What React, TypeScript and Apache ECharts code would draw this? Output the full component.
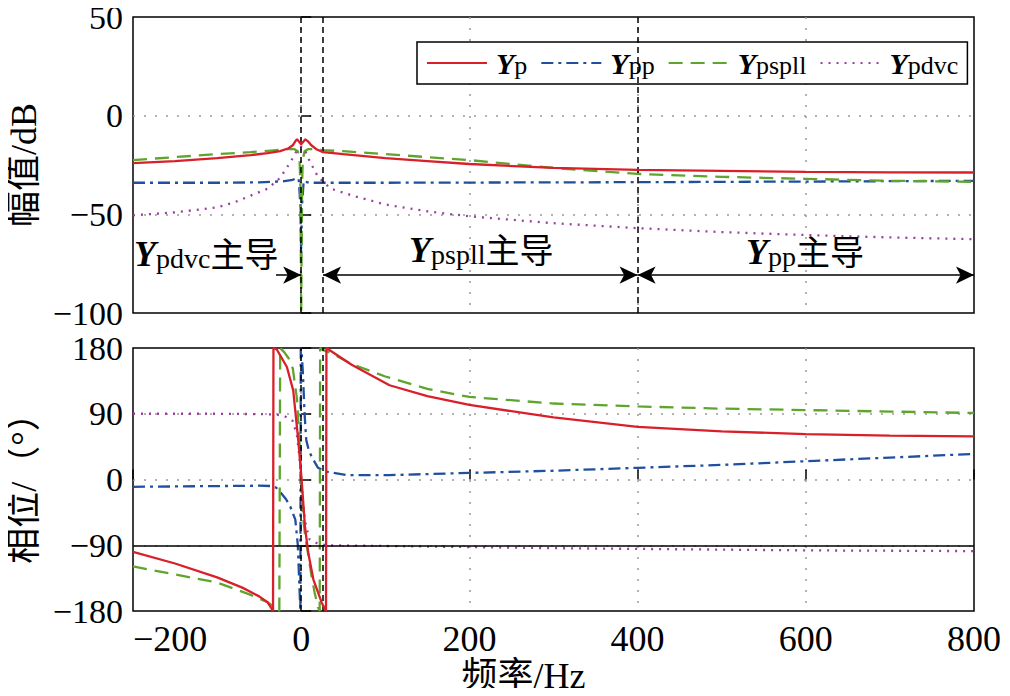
import React, { useEffect, useRef } from "react";
import * as echarts from "echarts";

// ---- data: magnitude (dB) ----
const magFreqP = [-200, -150, -100, -60, -40, -25, -15, -10, -7, -5, -3, 0, 3, 5, 8, 12, 18, 26, 50, 100, 150, 200, 300, 400, 500, 600, 700, 800];
const magP = [-24, -23, -21.5, -20, -19, -18, -16.5, -15, -13, -12, -13, -14.5, -13, -12, -13, -15, -17, -18.5, -19.5, -21.5, -23, -24.5, -26.5, -27.5, -28, -28.5, -28.7, -28.8];

const magFreqPP = [-200, -100, -50, -20, -10, -5, -3, -1, 0, 1, 3, 5, 10, 20, 50, 100, 200, 400, 600, 800];
const magPP = [-34, -34, -33.8, -33.2, -32.5, -31.5, -32, -45, -70, -45, -33, -33.5, -34, -34, -34, -34, -33.9, -33.7, -33.4, -33];

const magFreqPspll = [-200, -150, -100, -60, -30, -15, -8, -4, -2, -1, 0, 1, 2, 4, 8, 15, 26, 50, 100, 200, 300, 400, 500, 600, 700, 800];
const magPspll = [-22.5, -21, -19.5, -18.5, -17.5, -17, -17, -18, -22, -35, -100, -35, -22, -18, -17, -17, -17.5, -18, -19.5, -22.5, -26.5, -29.5, -31, -32, -33, -33.5];

const magFreqPdvc = [-200, -150, -100, -80, -60, -40, -25, -15, -10, -5, 0, 5, 10, 20, 35, 65, 100, 150, 200, 300, 400, 500, 600, 700, 800];
const magPdvc = [-50.5, -49, -46.5, -44, -40.5, -37, -31.5, -25, -21.5, -17.5, -15.5, -18, -23, -31, -37, -41, -45, -48.5, -51, -54.5, -57, -59, -60.5, -61.7, -62.6];

// ---- data: phase (deg) ----
const phFreqP = [-200, -150, -100, -70, -50, -40, -33.5, -33, -29, -17, -9.5, -3.5, 0.5, 4.5, 8.5, 14.5, 24.5, 29.5, 30, 34, 60, 105, 150, 200, 300, 400, 500, 600, 700, 800];
const phP = [-99, -115, -134, -148, -160, -168, -180, 180, 178, 154, 122, 54, 0, -65, -101, -137, -169, -180, 180, 177, 157, 129, 114, 102, 85, 72, 66, 62, 60, 59];

const phFreqPP = [-200, -100, -50, -35, -30, -25, -18, -13, -7, -4, -2, -1, -0.5, 0.5, 2, 4, 6, 9, 12.5, 20, 30, 54, 105, 200, 300, 400, 500, 600, 700, 800];
const phPP = [-10, -9, -8.5, -9, -11, -17, -27, -37, -55, -90, -150, -180, 180, 175, 146, 90, 54, 40, 31, 16, 10.7, 6, 6, 9, 12, 16, 20, 25, 30, 35];

const phFreqPspll = [-200, -150, -100, -60, -40, -26, -25, -20, -15, -10, -5, -2, 0, 2, 5, 8, 12, 16, 20, 22, 22.5, 26, 34, 60, 100, 150, 200, 300, 400, 500, 600, 700, 800];
const phPspll = [-119, -130, -141, -158, -168, -180, 180, 174, 166, 152, 110, 50, 0, -50, -80, -100, -130, -155, -175, -180, 180, 177, 174, 158, 141, 124, 113, 104, 100, 97, 95, 93, 91];

const phFreqPdvc = [-200, -100, -50, -30, -20, -10, -5, -2, 0, 2, 5, 10, 20, 30, 100, 200, 300, 400, 500, 600, 700, 800];
const phPdvc = [90, 90, 89.5, 89, 87, 80, 60, 30, 0, -30, -60, -82, -88, -90, -91, -92.5, -94, -95, -96, -97, -97.5, -98];

// ---- axis ticks / markers ----
const xTicks = { min: -200, max: 800, interval: 200 };
const magTicks = { min: -100, max: 50, interval: 50 };
const phTicks = { min: -180, max: 180, interval: 90 };
const boundaryFreqs = [0, 26];
const regionFreq = 400;
const arrowLevel = -80.8;
const arrowStartFreq = -30;
const phaseRefLine = -90;

const names = ["Yp", "Ypp", "Ypspll", "Ypdvc"];
const colors = ["#d9202a", "#1f4f9e", "#5fa52d", "#9a3f9f"];
const dashes: any[] = ["solid", [12, 5, 3, 5], [14, 8], [2, 6]];

const zip = (a: number[], b: number[]) => a.map((v, i) => [v, b[i]]);

const SERIF = '"Liberation Serif", "Times New Roman", serif';
const MIX = '"Liberation Serif", "Noto Sans CJK SC", serif';

const minus = (v: number) => (v < 0 ? "\u2212" + Math.abs(v) : String(v));

const richLegend = {
  Y: { fontFamily: SERIF, fontWeight: "bold", fontStyle: "italic", fontSize: 30, lineHeight: 30, verticalAlign: "bottom", color: "#000" },
  s: { fontFamily: SERIF, fontSize: 26, lineHeight: 21, verticalAlign: "bottom", color: "#000" },
};
const richNote = {
  Y: { fontFamily: SERIF, fontWeight: "bold", fontStyle: "italic", fontSize: 36, lineHeight: 36, verticalAlign: "bottom", color: "#000" },
  s: { fontFamily: SERIF, fontSize: 28, lineHeight: 24, verticalAlign: "bottom", color: "#000" },
  c: { fontFamily: MIX, fontSize: 34, lineHeight: 36, verticalAlign: "bottom", color: "#000" },
};

export default function App() {
  const ref = useRef<HTMLDivElement>(null);
  useEffect(() => {
    const chart = echarts.init(ref.current!, undefined, { renderer: "svg" });
    const gridLine = { show: true, showMinLine: false, showMaxLine: false, lineStyle: { color: "#999", type: [2, 9], width: 1.5 } };
    const dashedBlack = { color: "#000", type: [6, 4], width: 1.5 };
    const magSeries = [zip(magFreqP, magP), zip(magFreqPP, magPP), zip(magFreqPspll, magPspll), zip(magFreqPdvc, magPdvc)];
    const phSeries = [zip(phFreqP, phP), zip(phFreqPP, phPP), zip(phFreqPspll, phPspll), zip(phFreqPdvc, phPdvc)];
    const arrowSym = "arrow";
    const arrowSize: any = [13, 18];
    const series: any[] = [];
    names.forEach((n, i) => {
      series.push({
        name: n, type: "line", xAxisIndex: 0, yAxisIndex: 0, data: magSeries[i], showSymbol: false,
        lineStyle: { color: colors[i], type: dashes[i], width: 2.3 }, itemStyle: { color: colors[i] }, z: i === 0 ? 5 : 3,
        markLine: i === 0 ? {
          silent: true, symbol: "none", label: { show: false }, lineStyle: dashedBlack,
          data: [...boundaryFreqs, regionFreq].map((f) => ({ xAxis: f })),
        } : i === 1 ? {
          silent: true, label: { show: false }, lineStyle: { color: "#000", type: "solid", width: 1.5 }, symbolSize: arrowSize,
          data: [
            [{ coord: [arrowStartFreq, arrowLevel], symbol: "none" }, { coord: [boundaryFreqs[0], arrowLevel], symbol: arrowSym }],
            [{ coord: [boundaryFreqs[1], arrowLevel], symbol: arrowSym }, { coord: [regionFreq, arrowLevel], symbol: arrowSym }],
            [{ coord: [regionFreq, arrowLevel], symbol: arrowSym }, { coord: [xTicks.max, arrowLevel], symbol: arrowSym }],
          ],
        } : undefined,
      });
      series.push({
        name: n, type: "line", xAxisIndex: 1, yAxisIndex: 1, data: phSeries[i], showSymbol: false,
        lineStyle: { color: colors[i], type: dashes[i], width: 2.3 }, itemStyle: { color: colors[i] }, z: i === 0 ? 5 : 3,
        markLine: i === 0 ? {
          silent: true, symbol: "none", label: { show: false }, lineStyle: dashedBlack,
          data: boundaryFreqs.map((f) => ({ xAxis: f })),
        } : i === 1 ? {
          silent: true, symbol: "none", label: { show: false }, lineStyle: { color: "#000", type: "solid", width: 1.5 },
          data: [{ yAxis: phaseRefLine }],
        } : undefined,
      });
    });

    const yLabel = { fontFamily: SERIF, fontSize: 34, color: "#000", formatter: minus, margin: 10 };
    const tick = { show: true, inside: true, length: 10, lineStyle: { color: "#000", width: 1.5 } };
    const nameStyle = { fontFamily: MIX, fontSize: 36, color: "#000" };
    chart.setOption({
      animation: false,
      backgroundColor: "#fff",
      grid: [
        { left: 133, top: 17, width: 841, height: 296, show: true, borderColor: "#000", borderWidth: 1.5, backgroundColor: "transparent", outerBoundsMode: "none", containLabel: false },
        { left: 133, top: 348, width: 841, height: 263, show: true, borderColor: "#000", borderWidth: 1.5, backgroundColor: "transparent", outerBoundsMode: "none", containLabel: false },
      ],
      legend: {
        left: 417, top: 42, padding: [6, 9, 6, 9], itemWidth: 60, itemHeight: 20, itemGap: 13,
        borderColor: "#000", borderWidth: 1.5, backgroundColor: "#fff",
        itemStyle: { opacity: 0 },
        data: names,
        formatter: (n: string) => `{Y|Y}{s|${n.slice(1)}}`,
        textStyle: { rich: richLegend, padding: [0, 0, 0, 4] },
      },
      xAxis: [
        { type: "value", gridIndex: 0, ...xTicks, axisLabel: { show: false }, axisTick: { show: false }, axisLine: { show: false }, splitLine: gridLine },
        {
          type: "value", gridIndex: 1, ...xTicks, axisLine: { show: false },
          axisTick: tick,
          axisLabel: { fontFamily: SERIF, fontSize: 36, color: "#000", formatter: minus, margin: 10, alignMinLabel: "left" },
          splitLine: gridLine,
          name: "频率/Hz", nameLocation: "middle", nameGap: 36,
          nameTextStyle: { fontFamily: MIX, fontSize: 36, color: "#000", padding: [0, 60, 0, 0] },
        },
      ],
      yAxis: [
        {
          type: "value", gridIndex: 0, ...magTicks, axisLine: { show: false },
          axisTick: tick, axisLabel: yLabel, splitLine: gridLine,
          name: "幅值/dB", nameLocation: "middle", nameRotate: 90, nameGap: 78, nameTextStyle: nameStyle,
        },
        {
          type: "value", gridIndex: 1, ...phTicks, axisLine: { show: false },
          axisTick: tick, axisLabel: yLabel, splitLine: gridLine,
          name: "相位/（°）", nameLocation: "middle", nameRotate: 90, nameGap: 78, nameTextStyle: nameStyle,
        },
      ],
      graphic: [
        { type: "text", x: 134, y: 254, z: 100, style: { text: "{Y|Y}{s|pdvc}{c|主导}", rich: richNote, verticalAlign: "middle" } },
        { type: "text", x: 409, y: 250, z: 100, style: { text: "{Y|Y}{s|pspll}{c|主导}", rich: richNote, verticalAlign: "middle" } },
        { type: "text", x: 746, y: 252, z: 100, style: { text: "{Y|Y}{s|pp}{c|主导}", rich: richNote, verticalAlign: "middle" } },
      ],
      series,
    });
    return () => chart.dispose();
  }, []);
  return <div ref={ref} style={{ width: 1010, height: 696, margin: -8 }} />;
}
